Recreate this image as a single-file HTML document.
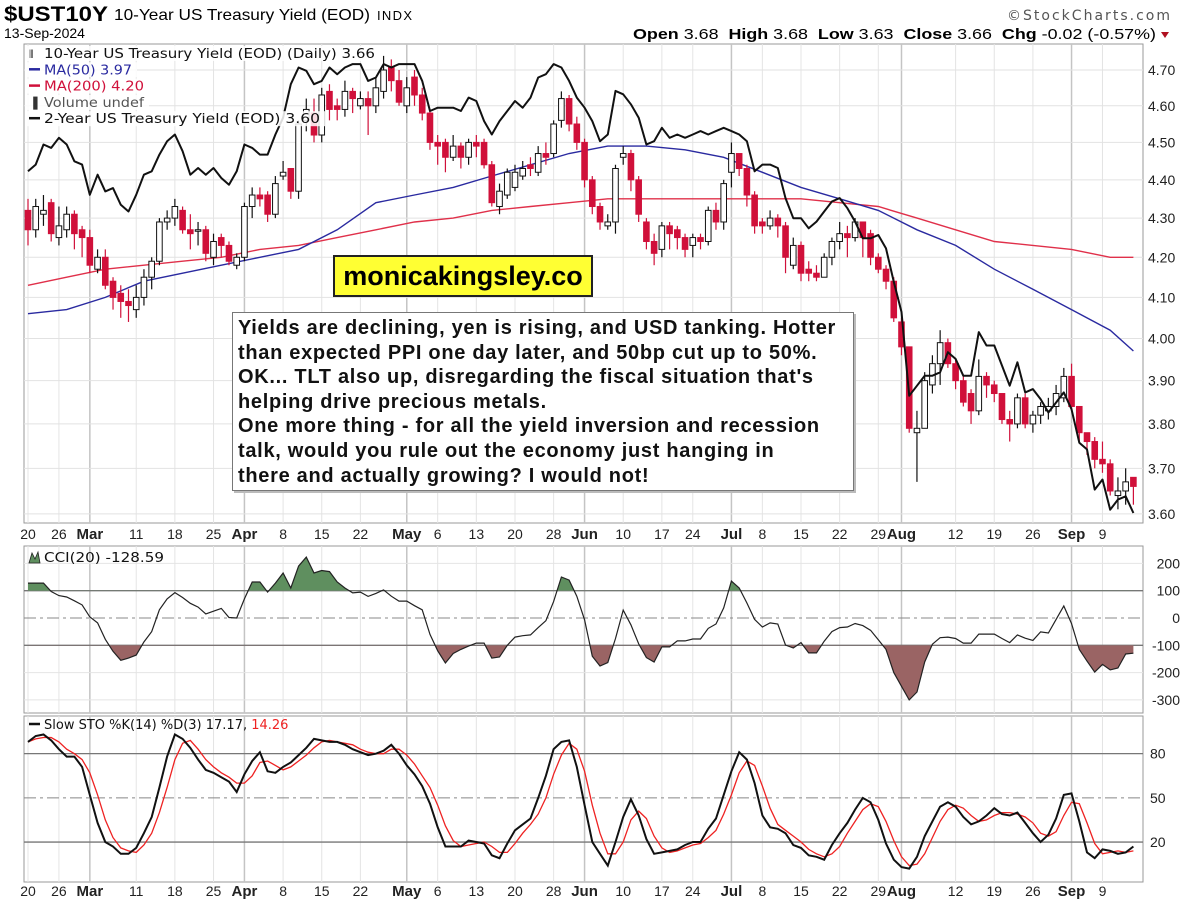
<!DOCTYPE html>
<html><head><meta charset="utf-8"><title>$UST10Y chart</title>
<style>
body{margin:0;background:#fff;width:1189px;height:906px;overflow:hidden;position:relative;font-family:"Liberation Sans",sans-serif}
svg{position:absolute;left:0;top:0}
.note{position:absolute;left:232px;top:312px;width:615px;height:174px;border:1px solid #777;background:#fff;box-shadow:2px 2px 0 #bbb;font:bold 20px/24.6px "Liberation Sans",sans-serif;letter-spacing:0.7px;color:#111;padding:3px 0 0 5px;white-space:nowrap}
.brand{position:absolute;left:333px;top:255px;width:256px;height:38px;border:2px solid #222;background:#ffff33;font:bold 27px/38px "Liberation Sans",sans-serif;text-align:center;color:#000}
</style></head>
<body>
<svg id="chart" width="1189" height="906" xmlns="http://www.w3.org/2000/svg"></svg>
<div class="brand">monicakingsley.co</div>
<div class="note">Yields are declining, yen is rising, and USD tanking. Hotter<br>than expected PPI one day later, and 50bp cut up to 50%.<br>OK... TLT also up, disregarding the fiscal situation that's<br>helping drive precious metals.<br>One more thing - for all the yield inversion and recession<br>talk, would you rule out the economy just hanging in<br>there and actually growing? I would not!</div>
<script>
const opens=[4.32,4.27,4.31,4.34,4.25,4.27,4.31,4.27,4.25,4.17,4.20,4.14,4.11,4.09,4.07,4.10,4.15,4.19,4.29,4.30,4.32,4.27,4.27,4.27,4.20,4.25,4.23,4.18,4.20,4.33,4.36,4.36,4.31,4.41,4.43,4.37,4.56,4.58,4.52,4.64,4.60,4.59,4.64,4.60,4.62,4.60,4.64,4.71,4.67,4.60,4.68,4.63,4.58,4.50,4.50,4.46,4.49,4.46,4.50,4.50,4.44,4.33,4.36,4.38,4.41,4.44,4.42,4.47,4.47,4.56,4.62,4.55,4.50,4.40,4.33,4.28,4.29,4.46,4.47,4.40,4.29,4.24,4.22,4.28,4.27,4.25,4.23,4.25,4.24,4.32,4.29,4.42,4.47,4.43,4.36,4.29,4.28,4.30,4.28,4.18,4.23,4.17,4.16,4.15,4.20,4.24,4.26,4.25,4.29,4.26,4.20,4.17,4.14,4.04,3.98,3.78,3.79,3.89,3.94,3.99,3.94,3.90,3.87,3.83,3.91,3.89,3.87,3.81,3.80,3.86,3.80,3.82,3.83,3.84,3.86,3.91,3.84,3.78,3.76,3.72,3.71,3.64,3.65,3.68];
const highs=[4.35,4.35,4.36,4.35,4.33,4.33,4.32,4.28,4.27,4.22,4.22,4.15,4.13,4.12,4.13,4.17,4.20,4.30,4.32,4.35,4.33,4.31,4.29,4.28,4.26,4.26,4.24,4.21,4.34,4.38,4.38,4.37,4.41,4.45,4.43,4.56,4.62,4.62,4.65,4.66,4.62,4.67,4.65,4.64,4.64,4.68,4.74,4.73,4.70,4.68,4.70,4.65,4.59,4.52,4.51,4.52,4.50,4.51,4.52,4.51,4.45,4.39,4.43,4.44,4.45,4.46,4.49,4.50,4.56,4.64,4.63,4.57,4.51,4.41,4.34,4.31,4.44,4.49,4.48,4.41,4.30,4.26,4.29,4.29,4.28,4.26,4.26,4.26,4.33,4.34,4.40,4.50,4.47,4.44,4.37,4.30,4.32,4.31,4.29,4.25,4.24,4.19,4.18,4.21,4.25,4.29,4.28,4.30,4.29,4.27,4.21,4.18,4.15,4.05,3.98,3.83,3.92,3.96,4.02,4.00,3.95,3.91,3.88,3.95,3.92,3.90,3.87,3.83,3.87,3.87,3.83,3.85,3.86,3.89,3.93,3.94,3.84,3.78,3.77,3.76,3.72,3.68,3.70,3.68];
const lows=[4.23,4.25,4.28,4.24,4.23,4.25,4.22,4.20,4.16,4.16,4.12,4.07,4.05,4.04,4.05,4.08,4.12,4.18,4.27,4.28,4.26,4.22,4.23,4.19,4.18,4.20,4.18,4.17,4.19,4.30,4.33,4.29,4.30,4.40,4.35,4.35,4.53,4.50,4.50,4.56,4.56,4.57,4.58,4.59,4.52,4.58,4.62,4.64,4.60,4.58,4.60,4.56,4.48,4.44,4.42,4.45,4.43,4.44,4.46,4.43,4.33,4.31,4.35,4.37,4.40,4.41,4.41,4.44,4.46,4.54,4.53,4.48,4.38,4.31,4.27,4.27,4.26,4.44,4.37,4.29,4.22,4.18,4.20,4.22,4.22,4.20,4.20,4.22,4.23,4.27,4.27,4.38,4.41,4.33,4.26,4.26,4.27,4.25,4.16,4.17,4.14,4.14,4.14,4.15,4.18,4.22,4.20,4.24,4.20,4.18,4.16,4.12,4.04,3.96,3.78,3.67,3.79,3.87,3.89,3.93,3.88,3.84,3.80,3.82,3.86,3.85,3.80,3.76,3.79,3.79,3.78,3.80,3.81,3.82,3.85,3.83,3.76,3.73,3.70,3.69,3.64,3.61,3.62,3.62];
const closes=[4.27,4.33,4.32,4.26,4.28,4.31,4.26,4.25,4.18,4.20,4.13,4.10,4.09,4.08,4.10,4.15,4.19,4.29,4.30,4.33,4.27,4.26,4.27,4.21,4.24,4.23,4.19,4.20,4.33,4.36,4.35,4.31,4.39,4.42,4.37,4.55,4.59,4.52,4.63,4.59,4.59,4.64,4.62,4.62,4.60,4.65,4.70,4.67,4.61,4.65,4.63,4.58,4.50,4.49,4.46,4.49,4.46,4.50,4.49,4.44,4.34,4.37,4.42,4.42,4.43,4.43,4.47,4.46,4.55,4.62,4.55,4.50,4.40,4.33,4.29,4.29,4.43,4.47,4.40,4.31,4.24,4.21,4.28,4.26,4.25,4.22,4.25,4.24,4.32,4.29,4.39,4.47,4.43,4.36,4.28,4.28,4.30,4.28,4.20,4.23,4.16,4.16,4.15,4.20,4.24,4.26,4.25,4.29,4.25,4.20,4.17,4.14,4.05,3.98,3.79,3.79,3.90,3.94,3.99,3.94,3.90,3.85,3.83,3.91,3.89,3.87,3.81,3.80,3.86,3.80,3.82,3.84,3.84,3.87,3.91,3.84,3.78,3.76,3.72,3.71,3.65,3.65,3.67,3.66];
const twoYear=[4.62,4.64,4.70,4.69,4.72,4.70,4.65,4.64,4.55,4.61,4.56,4.57,4.52,4.50,4.55,4.61,4.62,4.67,4.71,4.73,4.68,4.61,4.63,4.61,4.63,4.60,4.58,4.62,4.70,4.69,4.67,4.67,4.73,4.78,4.88,4.93,4.92,4.88,4.89,4.93,4.91,4.93,4.94,4.94,4.89,4.90,4.94,4.93,4.94,4.94,4.94,4.89,4.80,4.81,4.81,4.81,4.80,4.84,4.83,4.77,4.73,4.77,4.80,4.83,4.81,4.84,4.90,4.91,4.94,4.93,4.89,4.84,4.81,4.77,4.71,4.73,4.86,4.85,4.82,4.78,4.70,4.71,4.75,4.72,4.73,4.72,4.73,4.74,4.73,4.74,4.75,4.74,4.73,4.71,4.62,4.64,4.64,4.63,4.54,4.48,4.48,4.45,4.47,4.50,4.53,4.54,4.51,4.47,4.42,4.42,4.43,4.39,4.29,4.20,3.95,3.98,4.01,4.01,4.02,4.08,4.06,4.01,4.01,4.14,4.10,4.10,4.04,3.98,4.05,3.96,3.97,3.94,3.90,3.93,3.96,3.91,3.81,3.79,3.67,3.70,3.61,3.64,3.65,3.60];
const maIdx=[0,5,10,15,20,25,30,35,40,45,50,55,60,65,70,75,80,85,90,95,100,105,110,115,120,125,130,135,140,143];
const ma50=[4.06,4.07,4.10,4.14,4.16,4.18,4.20,4.22,4.27,4.34,4.36,4.38,4.41,4.44,4.47,4.49,4.49,4.48,4.46,4.42,4.38,4.35,4.32,4.27,4.23,4.17,4.12,4.07,4.02,3.97];
const ma200=[4.13,4.15,4.17,4.18,4.19,4.20,4.22,4.23,4.25,4.27,4.29,4.30,4.32,4.33,4.34,4.35,4.35,4.35,4.35,4.35,4.35,4.34,4.33,4.30,4.27,4.24,4.23,4.22,4.20,4.20];
const cci=[128,128,128,97,82,77,63,48,4,-18,-78,-122,-155,-147,-136,-88,-50,30,70,93,75,54,40,15,25,35,2,0,70,132,132,95,128,165,110,190,223,165,174,170,132,110,92,95,79,90,103,80,62,62,45,30,-60,-120,-165,-130,-115,-103,-92,-92,-147,-143,-100,-70,-65,-62,-35,-10,60,150,139,80,-7,-140,-176,-163,-75,29,-25,-95,-145,-161,-106,-106,-84,-84,-77,-77,-38,-22,37,135,110,55,-5,-33,-18,-22,-99,-110,-90,-128,-128,-85,-50,-35,-33,-20,-28,-45,-80,-115,-200,-250,-300,-271,-161,-96,-72,-70,-75,-92,-92,-59,-59,-59,-75,-90,-62,-74,-82,-51,-55,-5,44,-20,-115,-158,-198,-170,-190,-183,-132,-129];
const stoK=[88,92,93,89,83,78,78,71,52,33,20,17,12,12,16,26,37,57,78,93,90,84,76,69,67,64,61,54,66,75,81,68,67,71,74,79,84,90,89,88,88,86,83,81,79,80,82,86,80,72,66,58,46,30,17,17,17,21,20,19,11,9,19,28,32,36,50,65,83,88,89,71,45,20,12,4,20,37,49,38,22,12,13,14,15,18,20,20,29,36,52,68,81,76,60,38,30,29,26,18,16,11,10,8,18,26,33,42,50,47,35,19,8,3,2,10,24,34,44,47,44,37,32,34,38,43,39,38,40,33,26,20,25,36,52,53,34,13,9,15,14,12,13,17];
const stoD=[88,90,91,91,88,83,80,76,67,52,35,23,16,14,13,18,26,40,57,76,87,89,83,76,71,67,64,60,60,65,74,75,72,69,71,75,79,84,88,89,88,87,86,83,81,80,80,83,83,79,73,65,57,45,31,21,17,18,19,20,17,13,13,19,26,32,39,50,66,79,87,83,68,45,26,12,12,20,35,41,36,24,16,13,14,16,18,19,23,28,39,52,67,75,72,58,43,32,28,24,20,15,12,10,12,17,26,34,42,46,44,34,21,10,4,5,12,23,34,42,45,43,38,34,35,38,40,40,39,37,33,26,24,27,38,47,46,33,19,12,13,14,13,14];
const priceTicks=[4.70,4.60,4.50,4.40,4.30,4.20,4.10,4.00,3.90,3.80,3.70,3.60];
const cciTicks=[200,100,0,-100,-200,-300];
const stoTicks=[80,50,20];
const dateLabels=[[0,"20",0],[4,"26",0],[8,"Mar",1],[14,"11",0],[19,"18",0],[24,"25",0],[28,"Apr",1],[33,"8",0],[38,"15",0],[43,"22",0],[49,"May",1],[53,"6",0],[58,"13",0],[63,"20",0],[68,"28",0],[72,"Jun",1],[77,"10",0],[82,"17",0],[86,"24",0],[91,"Jul",1],[95,"8",0],[100,"15",0],[105,"22",0],[110,"29",0],[113,"Aug",1],[120,"12",0],[125,"19",0],[130,"26",0],[135,"Sep",1],[139,"9",0]];

const NS="http://www.w3.org/2000/svg";
const svg=document.getElementById('chart');
const L=24,R=1143;
const P={main:[44,523],cci:[546,713],sto:[716,882]};
const xOf=i=>28+i*7.73;
const yMain=v=>70+1665*Math.log(4.7/v);
const y2=v=>44+(5.00-v)/0.002985;
const yCCI=v=>618-0.273*v;
const ySTO=v=>871.5-1.473*v;
function el(tag,attrs,parent){const e=document.createElementNS(NS,tag);for(const k in attrs)e.setAttribute(k,attrs[k]);(parent||svg).appendChild(e);return e;}
function txt(s,attrs,parent){const e=el('text',attrs,parent);e.textContent=s;return e;}

// header
let t=txt("$UST10Y",{x:4,y:21,'font-size':21,'font-weight':'bold','font-family':'Liberation Sans',textLength:104,lengthAdjust:'spacingAndGlyphs'});

t=txt("10-Year US Treasury Yield (EOD)",{x:114,y:20,'font-size':16,'font-family':'Liberation Sans',textLength:256,lengthAdjust:'spacingAndGlyphs'});

t=txt("INDX",{x:377,y:20,'font-size':13,'font-family':'Liberation Sans',textLength:35});

t=txt("13-Sep-2024",{x:4,y:38,'font-size':14,'font-family':'Liberation Sans'});

t=txt("\u00A9StockCharts.com",{x:1170,y:20,'font-size':14,'font-family':'DejaVu Sans','fill':'#555','text-anchor':'end','textLength':163});

const ohlc=el('text',{x:633,y:39,'font-size':15,'font-family':'Liberation Sans',textLength:523,lengthAdjust:'spacingAndGlyphs'});


[["Open ",1],["3.68  ",0],["High ",1],["3.68  ",0],["Low ",1],["3.63  ",0],["Close ",1],["3.66  ",0],["Chg ",1],["-0.02 (-0.57%)",0]].forEach(p=>{const s=el('tspan',{'font-weight':p[1]?'bold':'normal'},ohlc);s.textContent=p[0];});
ohlc.setAttribute('style','white-space:pre');
t=el('path',{d:'M1161,32 L1169,32 L1165,38 Z',fill:'#b01020'});


// panels background & grids
for(const k in P){
  const [top,bot]=P[k];
  const r=el('rect',{x:L,y:top,width:R-L,height:bot-top,fill:'#fff',stroke:'#999','stroke-width':1});
  
  
  dateLabels.forEach(d=>{
    const g=el('line',{x1:xOf(d[0]),x2:xOf(d[0]),y1:top,y2:bot,stroke:d[2]?'#c4c4c4':'#e4e4e4','stroke-width':d[2]?1.5:1});
    
    
  });
}
priceTicks.forEach(v=>{
  const y=yMain(v);
  const g=el('line',{x1:L,x2:R,y1:y,y2:y,stroke:'#e2e2e2'});
  
  
  const tl=txt(v.toFixed(2),{x:1148,y:y+5,'font-size':14,'font-family':'Liberation Sans',fill:'#222'});
  
  
});
cciTicks.forEach(v=>{
  const y=yCCI(v);
  const ref=(v===100||v===-100),z=v===0;
  const g=el('line',{x1:L,x2:R,y1:y,y2:y,stroke:ref?'#777':(z?'#888':'#e4e4e4'),'stroke-width':ref?1.3:1,'stroke-dasharray':z?'12,4,3,4':'none'});
  
  
  const tl=txt(String(v),{x:1180,y:y+5,'font-size':14,'font-family':'Liberation Sans',fill:'#222','text-anchor':'end'});
  
  
});
stoTicks.forEach(v=>{
  const y=ySTO(v);
  const g=el('line',{x1:L,x2:R,y1:y,y2:y,stroke:v===50?'#888':'#777','stroke-width':v===50?1:1.3,'stroke-dasharray':v===50?'12,4,3,4':'none'});
  
  
  const tl=txt(String(v),{x:1150,y:y+5,'font-size':14,'font-family':'Liberation Sans',fill:'#222'});
  
  
});
[[539],[896]].forEach(r=>{
  dateLabels.forEach(d=>{
    const tl=txt(d[1],{x:xOf(d[0]),y:r[0],'font-size':d[2]?15:14,'font-weight':d[2]?'bold':'normal','font-family':'Liberation Sans','text-anchor':'middle',fill:'#222'});
    
    
  });
});

function poly(xs,ys,attrs,name){
  const pts=xs.map((x,j)=>x.toFixed(1)+','+ys[j].toFixed(1)).join(' ');
  const p=el('polyline',Object.assign({points:pts,fill:'none'},attrs));
  
  
  return p;
}
poly(maIdx.map(xOf),ma200.map(yMain),{stroke:'#e0304a','stroke-width':1.4},'ma200-line');
poly(maIdx.map(xOf),ma50.map(yMain),{stroke:'#2a2aa0','stroke-width':1.4},'ma50-line');

closes.forEach((c,i)=>{
  const o=opens[i],x=xOf(i);
  const up=c>=o;
  const w=el('line',{x1:x,x2:x,y1:yMain(highs[i]),y2:yMain(lows[i]),stroke:up?'#111':'#d0103a','stroke-width':1.2});
  
  
  const yt=yMain(Math.max(o,c)),yb=yMain(Math.min(o,c));
  const b=el('rect',{x:x-2.8,y:yt,width:5.6,height:Math.max(1.5,yb-yt),fill:up?'#fff':'#d0103a',stroke:up?'#111':'#d0103a','stroke-width':1});
  
  
});
poly(twoYear.map((v,i)=>xOf(i)),twoYear.map(y2),{stroke:'#111','stroke-width':2,'stroke-linejoin':'round'},'two-year-yield-line');

const lg=[["10-Year US Treasury Yield (EOD) (Daily) 3.66","#111",'legend-price',44,331],["MA(50) 3.97","#2a2aa0",'legend-ma50',44,88],["MA(200) 4.20","#d0103a",'legend-ma200',44,100],["Volume undef","#555",'legend-volume',44,100],["2-Year US Treasury Yield (EOD) 3.60","#111",'legend-two-year',44,276]];
lg.forEach((d,j)=>{
  const y=58+j*16.3;
  const w=el('rect',{x:L+1,y:y-12,width:d[4]+24,height:15,fill:'#fff','fill-opacity':0.85});
  
  
  if(j===0||j===3){const ic=txt(j===0?"\u2AF4":"\u2590",{x:29,y:y,'font-size':11,fill:'#333','font-family':'DejaVu Sans'});}
  else{const ln=el('line',{x1:29,x2:40,y1:y-5,y2:y-5,stroke:d[1],'stroke-width':2.5});}
  const tl=txt(d[0],{x:d[3],y:y,'font-size':13,'font-family':'DejaVu Sans',fill:d[1],textLength:d[4],lengthAdjust:'spacingAndGlyphs'});
  
  
});

const defs=el('defs',{});
const cpA=el('clipPath',{id:'cAbove'},defs);
el('rect',{x:L,y:P.cci[0],width:R-L,height:yCCI(100)-P.cci[0]},cpA);
const cpB=el('clipPath',{id:'cBelow'},defs);
el('rect',{x:L,y:yCCI(-100),width:R-L,height:P.cci[1]-yCCI(-100)},cpB);
const cciPts=cci.map((v,i)=>xOf(i).toFixed(1)+','+yCCI(v).toFixed(1)).join(' ');
let f=el('polygon',{points:xOf(0)+','+yCCI(100)+' '+cciPts+' '+xOf(cci.length-1)+','+yCCI(100),fill:'#5f8f5f','clip-path':'url(#cAbove)'});


f=el('polygon',{points:xOf(0)+','+yCCI(-100)+' '+cciPts+' '+xOf(cci.length-1)+','+yCCI(-100),fill:'#9a6464','clip-path':'url(#cBelow)'});


poly(cci.map((v,i)=>xOf(i)),cci.map(yCCI),{stroke:'#222','stroke-width':1.2},'cci-line');
t=txt("CCI(20) -128.59",{x:44,y:562,'font-size':13,'font-family':'DejaVu Sans',fill:'#111',textLength:120,lengthAdjust:'spacingAndGlyphs'});

t=el('path',{d:'M29,563 L32,553 L35,559 L38,552 L40,563 Z',fill:'#5f8f5f',stroke:'#222','stroke-width':0.8});


poly(stoD.map((v,i)=>xOf(i)),stoD.map(ySTO),{stroke:'#ee2222','stroke-width':1.3},'sto-d-line');
poly(stoK.map((v,i)=>xOf(i)),stoK.map(ySTO),{stroke:'#111','stroke-width':2},'sto-k-line');
t=el('line',{x1:29,x2:40,y1:724,y2:724,stroke:'#111','stroke-width':2.5});

const sl=el('text',{x:44,y:729,'font-size':13,'font-family':'DejaVu Sans',fill:'#111'});


const s1=el('tspan',{},sl);s1.textContent="Slow STO %K(14) %D(3) 17.17, ";
const s2=el('tspan',{fill:'#ee2222'},sl);s2.textContent="14.26";
</script>
</body></html>
